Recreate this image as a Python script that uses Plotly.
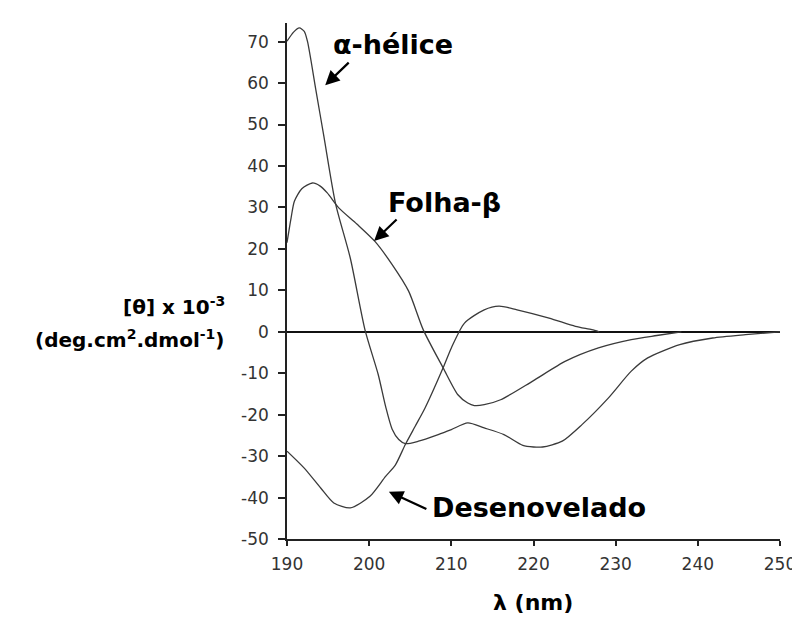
import plotly.graph_objects as go

# wavelength (nm) and mean residue ellipticity x 10^-3
alpha_x = [190.0, 190.8, 191.5, 192.1, 192.5, 193.5, 194.5, 195.9, 197.7, 199.5, 201.1, 202.0, 202.8, 203.6,
           204.4, 206.0, 208.4, 210.0, 212.0, 214.0, 216.4, 218.7, 220.0, 221.1, 223.5, 225.9, 229.1, 231.9,
           233.9, 237.8, 241.8, 245.8, 248.2, 250.0]
alpha_y = [70.1, 72.3, 73.3, 72.5, 70.0, 58.5, 47.0, 31.0, 17.8, 0.4, -10.3, -18.0, -23.5, -26.0,
           -27.0, -26.4, -24.8, -23.6, -22.0, -23.2, -24.8, -27.4, -27.8, -27.8, -26.4, -22.4, -16.0, -9.5,
           -6.3, -3.1, -1.5, -0.7, -0.3, 0.0]

beta_x = [190.0, 190.5, 190.9, 191.8, 193.1, 194.0, 194.9, 196.3, 198.5, 200.7, 202.8, 204.8, 206.6, 209.0, 210.8,
          212.0, 212.8, 214.0, 216.0, 219.9, 223.9, 227.9, 231.9, 235.0, 238.0]
beta_y = [21.5, 27.5, 31.5, 34.5, 35.9, 35.2, 33.5, 29.9, 26.0, 21.8, 16.2, 9.8, 0.4, -8.7, -15.2,
          -17.2, -17.8, -17.6, -16.4, -11.9, -7.1, -3.9, -1.9, -0.9, 0.0]

unf_x = [190.0, 192.1, 194.1, 195.7, 197.7, 200.1, 202.0, 203.2, 204.4, 205.6, 206.8, 209.0, 210.0,
         211.6, 214.0, 215.8, 218.0, 221.9, 225.1, 227.1, 228.0]
unf_y = [-28.8, -32.9, -37.7, -41.3, -42.5, -39.7, -34.9, -32.1, -27.2, -22.8, -18.4, -8.7, -3.9,
         2.1, 5.3, 6.2, 5.3, 3.3, 1.3, 0.5, 0.0]

x_ticks = [190, 200, 210, 220, 230, 240, 250]
y_ticks = [70, 60, 50, 40, 30, 20, 10, 0, -10, -20, -30, -40, -50]
y_ticktext = [str(v) for v in y_ticks]

FONT = "DejaVu Sans"
LINE = "#3a3a3a"

fig = go.Figure()
for xs, ys in [(alpha_x, alpha_y), (beta_x, beta_y), (unf_x, unf_y)]:
    fig.add_trace(go.Scatter(x=xs, y=ys, mode="lines",
                             line=dict(color=LINE, width=1.3, shape="spline", smoothing=0.7),
                             showlegend=False, hoverinfo="skip"))

fig.update_layout(
    width=800, height=617,
    margin=dict(l=279, r=18, t=15, b=86),
    paper_bgcolor="white", plot_bgcolor="white",
    showlegend=False,
    xaxis=dict(range=[190, 250], tickvals=x_ticks, ticktext=[str(v) for v in x_ticks],
               showgrid=False, zeroline=False, showline=True, linecolor="#222", linewidth=1.5,
               ticks="outside", ticklen=5, tickwidth=1.5, tickcolor="#222",
               ticklabelstandoff=4,
               tickfont=dict(family=FONT, size=17, color="#333")),
    yaxis=dict(range=[-50, 74.5], tickvals=y_ticks, ticktext=y_ticktext,
               showgrid=False, zeroline=True, zerolinecolor="#111", zerolinewidth=2,
               showline=True, linecolor="#222", linewidth=1.5,
               ticks="outside", ticklen=7, tickwidth=1.5, tickcolor="#222",
               ticklabelstandoff=6,
               tickfont=dict(family=FONT, size=17, color="#333")),
)

bold = dict(family=FONT, size=27, color="black")

def px2paper(px, py):
    return (px - 279) / 503.0, (531 - py) / 516.0

texts = [
    ("<b>\u03b1-hélice</b>", 387, 37, "center", bold),
    ("<b>Folha-\u03b2</b>", 440, 195, "center", bold),
    ("<b>Desenovelado</b>", 536, 499, "center", bold),
    ("<b>\u03bb (nm)</b>", 530, 594, "center", dict(family=FONT, size=22, color="black")),
    ("<b>[\u03b8] x 10<sup>-3</sup></b>", 218, 298, "right", dict(family=FONT, size=20, color="black")),
    ("<b>(deg.cm<sup>2</sup>.dmol<sup>-1</sup>)</b>", 217, 331, "right", dict(family=FONT, size=20, color="black")),
]
for t, px, py, anc, f in texts:
    xp, yp = px2paper(px, py)
    fig.add_annotation(text=t, x=xp, y=yp, xref="paper", yref="paper",
                       xanchor=anc, yanchor="middle", showarrow=False, font=f)

# arrows: head in data coords, tail offset in pixels
arrows = [(194.65, 59.5, 25, -24), (200.6, 21.9, 24, -23), (202.4, -38.6, 39, 18)]
for hx, hy, ax, ay in arrows:
    fig.add_annotation(x=hx, y=hy, xref="x", yref="y", ax=ax, ay=ay, text="",
                       showarrow=True, arrowhead=2, arrowsize=1.3, arrowwidth=2.2,
                       arrowcolor="black", standoff=0, startstandoff=0)

fig.write_html("out.html")
